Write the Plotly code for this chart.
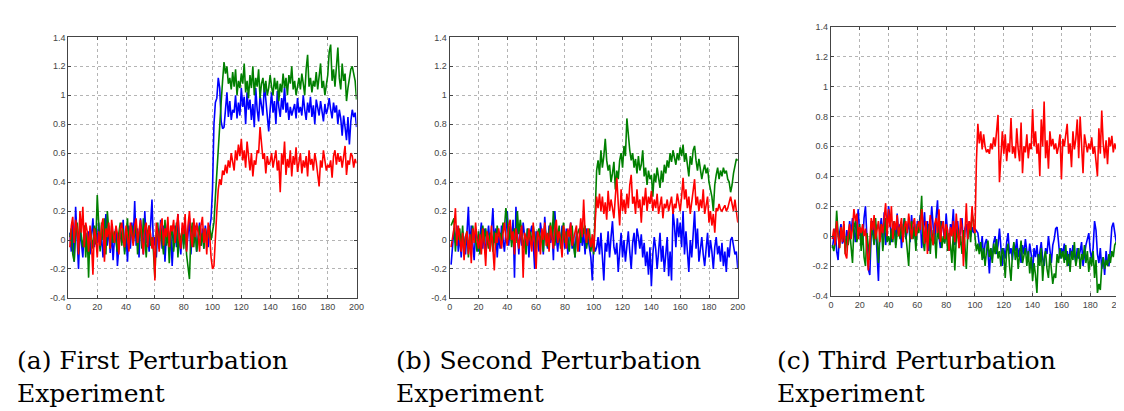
import plotly.graph_objects as go

x = list(range(1, 201))

b1 = [0.05, -0.08, 0.12, -0.15, 0.23, 0.02, -0.2, 0.08, -0.05, -0.12, 0.1, 0.04, -0.08, 0.06, -0.1, 0.02, 0.15, -0.05, 0.08, -0.02,
      0.12, -0.06, 0.03, -0.12, 0.08, 0.18, -0.04, 0.1, -0.09, 0.05, -0.14, 0.02, 0.09, -0.18, -0.05, 0.07, -0.02, 0.14, -0.08, 0.04,
      -0.15, 0.1, -0.06, 0.12, 0.0, 0.27, -0.04, 0.08, -0.12, 0.15, 0.05, -0.1, 0.2, -0.02, 0.06, -0.08, 0.1, 0.28, -0.05, 0.02,
      -0.12, 0.08, -0.02, 0.14, -0.06, 0.1, -0.15, 0.04, 0.12, -0.08, 0.06, -0.18, 0.02, 0.1, -0.05, 0.18, 0.0, -0.1, 0.08, -0.03,
      0.12, -0.07, 0.04, 0.15, -0.1, 0.06, -0.02, 0.1, -0.08, 0.05, 0.12, -0.04, 0.08, -0.06, 0.1, 0.02, -0.05, 0.08, 0.15, 0.35,
      0.8, 0.95, 0.98, 1.12, 1.05, 0.82, 0.77, 0.78, 0.92, 1.02, 0.85, 0.96, 0.83, 0.9, 0.88, 1.0, 0.84, 0.95, 0.86, 1.05,
      0.92, 0.99, 0.8, 1.02, 0.9, 0.97, 0.83, 0.94, 0.78, 1.05, 0.9, 0.82, 1.0, 0.93, 0.86, 1.08, 0.95, 0.84, 0.75, 0.9,
      1.02, 0.88, 0.96, 0.8, 1.03, 0.92, 0.85, 0.98, 0.9, 1.06, 0.88, 0.95, 0.83, 0.92, 0.86, 0.9, 0.94, 0.84, 0.98, 0.88,
      0.92, 0.86, 1.0, 0.9, 0.83, 0.95, 0.88, 0.99, 0.85, 0.93, 0.8, 0.97, 0.9, 0.86, 0.96, 0.88, 0.82, 0.94, 0.87, 0.91,
      0.98, 0.9, 0.84, 0.95, 0.88, 0.93, 0.8, 0.9, 0.84, 0.72, 0.86, 0.78, 0.69, 0.85, 0.66, 0.82, 0.9, 0.85, 0.88, 0.78]

g1 = [0.02, 0.08, -0.1, -0.15, 0.05, 0.12, -0.08, 0.18, 0.0, -0.05, 0.1, -0.12, 0.05, -0.26, 0.08, 0.02, -0.06, 0.1, -0.03, 0.31,
      0.05, -0.08, 0.12, 0.0, 0.15, -0.1, 0.2, 0.04, -0.06, 0.1, -0.02, 0.06, 0.0, -0.08, 0.05, 0.12, -0.04, 0.08, -0.1, 0.02,
      0.15, -0.06, 0.08, 0.1, -0.02, 0.05, 0.12, -0.1, 0.04, 0.08, -0.06, 0.15, 0.0, -0.12, 0.06, 0.1, -0.04, 0.02, -0.08, -0.26,
      0.05, 0.12, -0.06, 0.08, 0.0, -0.1, 0.14, -0.04, 0.06, -0.16, 0.02, 0.1, -0.08, 0.04, 0.12, -0.12, 0.05, -0.02, 0.08, -0.06,
      0.1, -0.1, -0.2, -0.27, 0.04, 0.12, -0.05, 0.08, -0.08, 0.02, 0.1, -0.04, 0.05, -0.06, 0.08, -0.02, 0.04, 0.1, 0.0, 0.05,
      0.12, 0.3, 0.48, 0.66, 0.8, 0.95, 1.1, 1.23, 1.15, 1.2, 1.08, 1.12, 1.04, 1.16, 1.06, 1.18, 1.0, 1.1, 1.05, 1.15,
      1.08, 1.22, 1.02, 1.1, 0.98, 1.14, 1.05, 1.2, 1.0, 1.12, 1.06, 1.18, 0.98, 1.08, 1.12, 1.02, 1.1, 1.0, 1.05, 1.14,
      1.06, 1.0, 1.12, 1.04, 1.1, 0.96, 1.08, 1.02, 1.15, 1.05, 1.12, 1.0, 1.14, 1.08, 1.2, 1.04, 1.1, 1.0, 1.06, 1.12,
      1.04, 1.15, 1.08, 1.0, 1.18, 1.28, 1.06, 1.12, 1.02, 1.1, 1.06, 1.16, 1.04, 1.12, 1.22, 1.05, 1.1, 1.0, 1.08, 1.14,
      1.3, 1.35, 1.1, 1.18, 1.06, 1.2, 1.33, 1.12, 1.04, 1.22, 1.1, 1.15, 0.96, 1.05, 1.12, 1.18, 1.2, 1.15, 1.1, 0.97]

r1 = [-0.05, 0.1, 0.16, -0.02, 0.14, 0.08, -0.1, 0.2, 0.05, 0.23, -0.05, 0.12, 0.06, -0.08, 0.1, -0.02, -0.24, 0.08, 0.02, -0.12,
      0.06, -0.04, 0.1, 0.15, -0.15, 0.08, 0.02, 0.12, -0.06, 0.14, 0.05, -0.02, 0.1, 0.04, -0.1, 0.08, 0.12, 0.0, -0.05, 0.1,
      0.02, -0.08, 0.12, 0.05, -0.04, 0.1, 0.15, -0.02, 0.06, 0.14, 0.0, -0.1, 0.08, 0.12, -0.05, 0.1, 0.04, -0.06, 0.02, -0.28,
      0.12, 0.05, -0.08, 0.1, 0.15, -0.04, 0.08, 0.02, 0.16, -0.05, 0.1, 0.06, 0.14, -0.02, 0.08, 0.18, 0.0, -0.06, 0.12, 0.04,
      0.18, -0.08, 0.1, 0.2, 0.04, -0.05, 0.15, 0.02, 0.12, 0.05, -0.08, 0.1, 0.16, -0.02, 0.08, -0.1, 0.12, 0.04, -0.12, -0.2,
      -0.18, 0.05, 0.2, 0.35, 0.42, 0.38, 0.48, 0.45, 0.52, 0.46, 0.55, 0.5, 0.6, 0.54, 0.48, 0.62, 0.55, 0.66, 0.58, 0.7,
      0.55, 0.62, 0.5, 0.68, 0.57, 0.48, 0.6, 0.44, 0.55, 0.52, 0.62, 0.6, 0.78, 0.65, 0.56, 0.6, 0.46, 0.58, 0.52, 0.54,
      0.6, 0.5, 0.56, 0.62, 0.48, 0.55, 0.33, 0.6, 0.52, 0.68, 0.45, 0.56, 0.5, 0.62, 0.44, 0.58, 0.52, 0.64, 0.47, 0.55,
      0.6, 0.46, 0.55, 0.5, 0.58, 0.44, 0.62, 0.52, 0.56, 0.48, 0.6, 0.54, 0.46, 0.37, 0.55, 0.5, 0.62, 0.56, 0.48, 0.52,
      0.5, 0.55, 0.43, 0.58, 0.62, 0.52, 0.6, 0.54, 0.58, 0.5, 0.56, 0.65, 0.45, 0.55, 0.52, 0.6, 0.58, 0.5, 0.56, 0.53]

b2 = [-0.17, -0.05, 0.08, -0.02, 0.1, -0.08, 0.04, -0.12, 0.06, 0.0, -0.1, 0.05, 0.23, -0.06, 0.1, -0.02, -0.14, 0.06, 0.02, -0.08,
      0.04, 0.12, -0.06, 0.08, -0.1, 0.02, 0.1, -0.04, 0.06, 0.22, -0.02, 0.08, -0.12, 0.04, -0.06, 0.1, 0.0, -0.08, 0.05, 0.2,
      -0.04, 0.1, -0.02, 0.14, -0.26, 0.23, 0.05, -0.1, 0.08, -0.04, 0.12, 0.0, -0.06, 0.08, -0.12, 0.05, 0.1, -0.02, -0.2, 0.06,
      0.02, -0.08, 0.12, 0.04, -0.1, 0.16, 0.0, -0.06, 0.1, -0.02, 0.08, -0.14, 0.2, 0.02, -0.08, 0.06, -0.04, 0.1, 0.0, -0.06,
      0.08, -0.1, 0.04, 0.12, -0.06, 0.02, -0.12, 0.06, 0.0, -0.08, 0.1, -0.04, 0.05, -0.1, 0.08, 0.02, -0.06, -0.12, -0.28, -0.02,
      -0.08, -0.05, 0.02, -0.1, 0.05, -0.15, -0.28, -0.02, -0.08, 0.06, -0.12, 0.02, 0.13, -0.05, -0.1, -0.02, -0.22, -0.08, 0.05, -0.12,
      0.0, -0.15, -0.05, 0.06, -0.08, -0.2, -0.02, 0.05, -0.1, 0.08, 0.02, -0.06, 0.04, -0.12, -0.02, -0.18, -0.08, -0.24, -0.05, -0.32,
      -0.1, 0.02, -0.06, -0.2, -0.08, 0.05, -0.15, -0.04, -0.22, -0.1, 0.02, -0.25, -0.08, -0.28, 0.2, 0.1, -0.05, 0.15, 0.02, 0.12,
      -0.05, 0.2, -0.1, 0.06, -0.08, -0.22, 0.0, -0.12, 0.04, 0.2, -0.06, 0.08, -0.15, -0.04, 0.02, -0.1, -0.18, -0.06, 0.05, -0.12,
      0.0, -0.08, -0.2, -0.05, 0.02, -0.1, -0.04, -0.15, -0.02, -0.18, -0.08, -0.22, -0.05, -0.12, 0.0, 0.02, -0.04, -0.1, -0.08, -0.2]

g2 = [0.1, 0.12, 0.15, -0.08, 0.05, 0.0, 0.08, -0.06, 0.1, -0.1, 0.02, 0.06, -0.12, 0.04, -0.04, 0.1, 0.02, 0.0, -0.08, 0.06,
      -0.1, 0.04, 0.1, -0.02, 0.08, 0.0, -0.06, 0.05, 0.02, -0.08, 0.06, -0.04, 0.1, 0.02, 0.05, -0.02, 0.12, 0.08, 0.22, 0.15,
      0.0, 0.1, -0.05, 0.05, 0.08, -0.02, 0.2, 0.04, 0.14, 0.06, -0.06, 0.02, -0.1, 0.08, 0.0, 0.06, -0.04, 0.1, 0.02, -0.06,
      0.05, 0.08, -0.02, 0.04, -0.08, 0.1, 0.02, -0.05, 0.06, 0.12, 0.0, 0.2, -0.04, 0.08, 0.02, 0.1, -0.06, 0.04, 0.12, -0.02,
      0.06, 0.0, -0.08, 0.04, 0.1, -0.04, -0.12, 0.02, 0.06, 0.08, -0.02, 0.12, 0.04, 0.1, -0.06, 0.02, 0.08, -0.08, 0.0, -0.1,
      0.25, 0.48, 0.55, 0.45, 0.62, 0.5, 0.58, 0.7, 0.55, 0.48, 0.52, 0.4, 0.46, 0.54, 0.35, 0.48, 0.42, 0.55, 0.6, 0.5,
      0.65, 0.58, 0.84, 0.7, 0.62, 0.55, 0.6, 0.5, 0.56, 0.46, 0.58, 0.48, 0.52, 0.62, 0.44, 0.5, 0.38, 0.48, 0.42, 0.45,
      0.3, 0.46, 0.4, 0.5, 0.44, 0.36, 0.48, 0.4, 0.52, 0.46, 0.55, 0.5, 0.6, 0.54, 0.62, 0.58, 0.52, 0.6, 0.55, 0.64,
      0.58, 0.66, 0.54, 0.6, 0.5, 0.44, 0.58, 0.52, 0.62, 0.65, 0.55, 0.48, 0.56, 0.5, 0.42, 0.48, 0.52, 0.46, 0.5, 0.4,
      0.35, 0.3, 0.2, 0.38, 0.45, 0.5, 0.42, 0.48, 0.44, 0.5, 0.46, 0.48, 0.42, 0.4, 0.33, 0.38, 0.46, 0.5, 0.56, 0.55]

r2 = [-0.05, 0.02, 0.08, 0.22, -0.04, 0.1, 0.0, -0.08, 0.05, -0.14, 0.02, 0.06, -0.1, 0.04, -0.16, 0.08, -0.02, 0.12, 0.0, -0.06,
      0.04, -0.1, 0.08, -0.02, -0.18, 0.06, 0.0, -0.08, 0.1, -0.04, -0.21, 0.05, -0.02, 0.08, 0.0, -0.06, 0.04, 0.12, 0.02, -0.04,
      0.1, 0.14, 0.0, 0.06, -0.1, 0.08, 0.02, -0.06, 0.04, 0.1, -0.26, 0.05, 0.02, -0.04, 0.08, 0.0, -0.08, 0.12, -0.02, -0.2,
      0.06, 0.02, -0.1, 0.08, 0.0, 0.12, -0.04, 0.05, -0.08, 0.1, 0.02, -0.06, 0.08, 0.14, -0.02, 0.06, 0.0, -0.12, 0.1, 0.04,
      -0.06, 0.08, 0.02, 0.12, -0.04, 0.0, 0.06, 0.1, -0.08, 0.04, 0.15, 0.02, 0.28, 0.05, -0.02, 0.08, 0.0, -0.05, 0.04, -0.08,
      0.12, 0.3, 0.22, 0.32, 0.2, 0.3, 0.18, 0.26, 0.14, 0.34, 0.2, 0.28, 0.22, 0.15, 0.3, 0.43, 0.25, 0.1, 0.35, 0.2,
      0.28, 0.18, 0.32, 0.22, 0.38, 0.45, 0.25, 0.3, 0.18, 0.35, 0.22, 0.28, 0.12, 0.3, 0.24, 0.36, 0.2, 0.3, 0.25, 0.34,
      0.2, 0.28, 0.22, 0.32, 0.18, 0.26, 0.3, 0.15, 0.25, 0.22, 0.28, 0.2, 0.24, 0.3, 0.18, 0.25, 0.22, 0.32, 0.26, 0.2,
      0.3, 0.43, 0.28, 0.35, 0.22, 0.3, 0.18, 0.26, 0.34, 0.42, 0.24, 0.3, 0.2, 0.28, 0.22, 0.35, 0.18, 0.25, 0.3, 0.12,
      0.2, 0.1, 0.18, 0.05, 0.22, 0.2, 0.25, 0.21, 0.2, 0.22, 0.24, 0.2, 0.22, 0.26, 0.3, 0.25, 0.2, 0.28, 0.18, 0.12]

b3 = [-0.08, -0.02, 0.05, -0.1, -0.16, 0.02, 0.08, -0.05, 0.0, -0.08, 0.04, -0.02, 0.1, 0.02, 0.12, 0.05, -0.04, 0.08, 0.18, 0.0,
      0.05, -0.06, 0.12, 0.2, -0.04, -0.22, -0.26, 0.02, 0.1, -0.05, 0.08, -0.1, -0.3, 0.05, 0.12, -0.02, 0.16, -0.06, 0.04, 0.2,
      0.12, -0.04, 0.06, 0.1, -0.06, 0.15, 0.02, 0.08, -0.08, 0.05, 0.12, -0.02, 0.06, 0.1, -0.04, 0.14, 0.0, 0.08, -0.06, 0.1,
      0.05, 0.14, -0.08, 0.04, 0.16, -0.04, 0.1, -0.1, 0.02, 0.2, 0.06, -0.05, 0.12, 0.24, 0.0, -0.08, 0.1, 0.05, -0.04, 0.15,
      0.02, -0.1, 0.08, 0.04, 0.18, -0.06, 0.0, 0.1, -0.04, 0.06, 0.12, -0.08, 0.05, 0.08, -0.02, 0.1, 0.0, 0.06, 0.02, 0.05,
      0.03, 0.02, -0.06, -0.1, 0.0, -0.15, -0.05, -0.02, -0.1, -0.25, -0.08, -0.15, -0.04, 0.0, -0.12, -0.06, 0.05, -0.1, -0.2, -0.08,
      -0.15, -0.04, 0.02, -0.12, -0.08, -0.16, -0.05, -0.1, -0.02, -0.14, -0.08, -0.18, -0.06, -0.12, -0.02, -0.1, -0.15, -0.05, -0.12, -0.25,
      -0.08, -0.14, -0.06, -0.18, -0.1, -0.04, -0.15, -0.2, -0.08, -0.12, 0.0, -0.1, -0.18, -0.06, -0.02, 0.05, 0.06, -0.04, -0.15, -0.08,
      -0.12, -0.05, -0.16, -0.1, -0.2, -0.08, -0.14, -0.06, -0.12, -0.18, -0.08, -0.15, -0.1, -0.04, -0.2, -0.12, -0.06, -0.02, 0.02, -0.1,
      -0.15, -0.08, 0.1, 0.04, -0.12, -0.18, -0.08, -0.22, -0.14, -0.26, -0.1, -0.18, -0.2, -0.08, 0.06, 0.09, 0.03, -0.04, -0.06, -0.03]

g3 = [-0.06, -0.1, -0.04, 0.17, 0.02, -0.08, 0.05, -0.02, 0.08, -0.12, 0.0, -0.06, 0.04, -0.08, -0.18, 0.06, 0.1, -0.04, 0.02, 0.08,
      -0.1, 0.04, -0.14, -0.2, 0.02, -0.08, -0.16, 0.1, 0.0, -0.06, 0.12, -0.02, -0.18, 0.04, 0.08, -0.1, 0.02, 0.12, -0.04, 0.0,
      -0.06, 0.05, -0.04, 0.1, -0.08, 0.02, 0.06, -0.02, 0.08, -0.04, 0.12, 0.0, -0.06, -0.2, 0.04, 0.1, -0.02, 0.06, -0.1, 0.08,
      0.02, 0.1, 0.27, -0.04, -0.1, 0.06, -0.02, 0.08, -0.12, 0.04, -0.06, 0.02, -0.15, 0.06, -0.02, 0.1, -0.08, 0.0, -0.05, 0.06,
      -0.1, 0.02, -0.06, -0.18, 0.04, -0.23, -0.02, 0.05, -0.08, 0.0, -0.12, 0.04, -0.06, -0.22, 0.02, 0.08, -0.04, 0.15, 0.1, 0.0,
      -0.1, -0.05, -0.12, -0.04, -0.16, -0.08, -0.2, -0.1, -0.03, -0.14, -0.08, -0.18, -0.05, -0.12, -0.02, -0.15, -0.1, -0.2, -0.08, -0.12,
      -0.28, -0.1, -0.05, -0.2, -0.3, -0.12, -0.04, -0.16, -0.08, -0.22, -0.1, -0.03, -0.18, -0.12, -0.08, -0.2, -0.1, -0.25, -0.14, -0.3,
      -0.18, -0.26, -0.38, -0.12, -0.2, -0.08, -0.3, -0.15, -0.1, -0.22, -0.28, -0.12, -0.2, -0.32, -0.25, -0.28, -0.12, -0.18, -0.08, -0.15,
      -0.1, -0.18, -0.06, -0.2, -0.12, -0.24, -0.1, -0.16, -0.04, -0.2, -0.14, -0.08, -0.22, -0.12, -0.16, -0.06, -0.18, -0.1, -0.24, -0.14,
      -0.2, -0.1, -0.28, -0.16, -0.38, -0.32, -0.36, -0.2, -0.14, -0.22, -0.16, -0.2, -0.12, -0.18, -0.1, -0.14, -0.06, -0.04, -0.08, -0.02]

r3 = [-0.02, 0.05, -0.06, 0.1, 0.0, -0.08, 0.06, -0.04, 0.1, -0.12, -0.15, 0.02, 0.08, -0.02, 0.05, 0.18, 0.1, 0.15, -0.02, 0.06,
      0.02, 0.08, 0.0, 0.05, -0.1, -0.23, -0.05, 0.12, 0.04, 0.14, -0.02, 0.06, 0.1, -0.04, 0.08, 0.02, 0.15, 0.22, 0.0, 0.18,
      0.06, 0.2, -0.02, 0.1, 0.04, 0.14, 0.0, 0.08, 0.12, -0.04, 0.06, 0.1, 0.02, 0.15, 0.05, -0.02, 0.08, 0.12, 0.0, 0.06,
      0.1, 0.04, 0.18, 0.08, -0.05, 0.1, -0.12, 0.04, 0.14, 0.0, -0.06, 0.08, 0.12, 0.02, 0.18, -0.04, 0.06, 0.1, -0.02, 0.08,
      0.04, -0.1, 0.06, 0.0, 0.1, -0.04, 0.15, 0.02, -0.08, 0.12, 0.06, -0.2, 0.08, 0.22, -0.02, 0.1, 0.04, 0.2, 0.06, 0.02,
      0.5, 0.75, 0.62, 0.7, 0.58, 0.68, 0.6, 0.56, 0.58, 0.55, 0.62, 0.58, 0.66, 0.6, 0.7, 0.81, 0.36, 0.5, 0.7, 0.55,
      0.68, 0.5, 0.62, 0.56, 0.79, 0.55, 0.6, 0.52, 0.72, 0.58, 0.5, 0.76, 0.42, 0.6, 0.56, 0.68, 0.52, 0.62, 0.58, 0.85,
      0.6, 0.7, 0.55, 0.62, 0.4, 0.78, 0.6, 0.9, 0.52, 0.64, 0.45, 0.7, 0.6, 0.65, 0.58, 0.62, 0.55, 0.6, 0.68, 0.38,
      0.65, 0.6, 0.7, 0.75, 0.55, 0.62, 0.46, 0.7, 0.58, 0.65, 0.78, 0.52, 0.8, 0.6, 0.42, 0.68, 0.6, 0.56, 0.62, 0.58,
      0.66, 0.55, 0.6, 0.5, 0.4, 0.72, 0.55, 0.84, 0.62, 0.52, 0.64, 0.48, 0.66, 0.6, 0.67, 0.56, 0.62, 0.58, 0.6, 0.57]

panels = [(b1, g1, r1), (b2, g2, r2), (b3, g3, r3)]
captions = [("(a) First Perturbation", "Experiment"),
            ("(b) Second Perturbation", "Experiment"),
            ("(c) Third Perturbation", "Experiment")]

x_ticks = list(range(0, 201, 20))
x_tick_text = [str(v) for v in x_ticks]
y_ticks = [-0.4, -0.2, 0, 0.2, 0.4, 0.6, 0.8, 1.0, 1.2, 1.4]
y_tick_text = ["-0.4", "-0.2", "0", "0.2", "0.4", "0.6", "0.8", "1", "1.2", "1.4"]

colors = ["#0000ff", "#008000", "#ff0000"]

W, H = 1124, 411
# pixel boxes (left, right, top, bottom)
boxes = [(58, 349, 25, 292), (443, 734, 25, 292), (828, 1119, 14, 290)]
caption_x = [4, 387, 772]

fig = go.Figure()
layout = dict(width=W, height=H, margin=dict(l=0, r=0, t=0, b=0),
              paper_bgcolor="white", plot_bgcolor="white", showlegend=False)

annotations = []
for i, (series, box) in enumerate(zip(panels, boxes)):
    n = i + 1
    xa = "x" if n == 1 else f"x{n}"
    ya = "y" if n == 1 else f"y{n}"
    for s, c in zip(series, colors):
        fig.add_trace(go.Scatter(x=x, y=s, mode="lines", xaxis=xa, yaxis=ya,
                                 line=dict(color=c, width=1.6), hoverinfo="skip"))
    l, r, t, b = box
    axis_common = dict(showline=True, mirror="ticks", linecolor="#444", linewidth=1,
                       ticks="inside", ticklen=3, tickcolor="#444",
                       showgrid=True, gridcolor="#b4b4b4", griddash="dot", gridwidth=1,
                       zeroline=False, tickfont=dict(family="Liberation Sans", size=9, color="#444"))
    layout["xaxis" if n == 1 else f"xaxis{n}"] = dict(
        domain=[l / W, r / W], range=[0, 200], anchor=ya,
        tickvals=x_ticks, ticktext=x_tick_text, **axis_common)
    layout["yaxis" if n == 1 else f"yaxis{n}"] = dict(
        domain=[1 - b / H, 1 - t / H], range=[-0.4, 1.4], anchor=xa,
        tickvals=y_ticks, ticktext=y_tick_text, **axis_common)
    line1, line2 = captions[i]
    for txt, cy in ((line1, 356), (line2, 390)):
        annotations.append(dict(text=txt, x=caption_x[i] / W, y=1 - cy / H,
                                xref="paper", yref="paper", xanchor="left", yanchor="middle",
                                showarrow=False,
                                font=dict(family="DejaVu Serif", size=25, color="black")))

layout["annotations"] = annotations
fig.update_layout(**layout)
fig.write_html("out.html")
